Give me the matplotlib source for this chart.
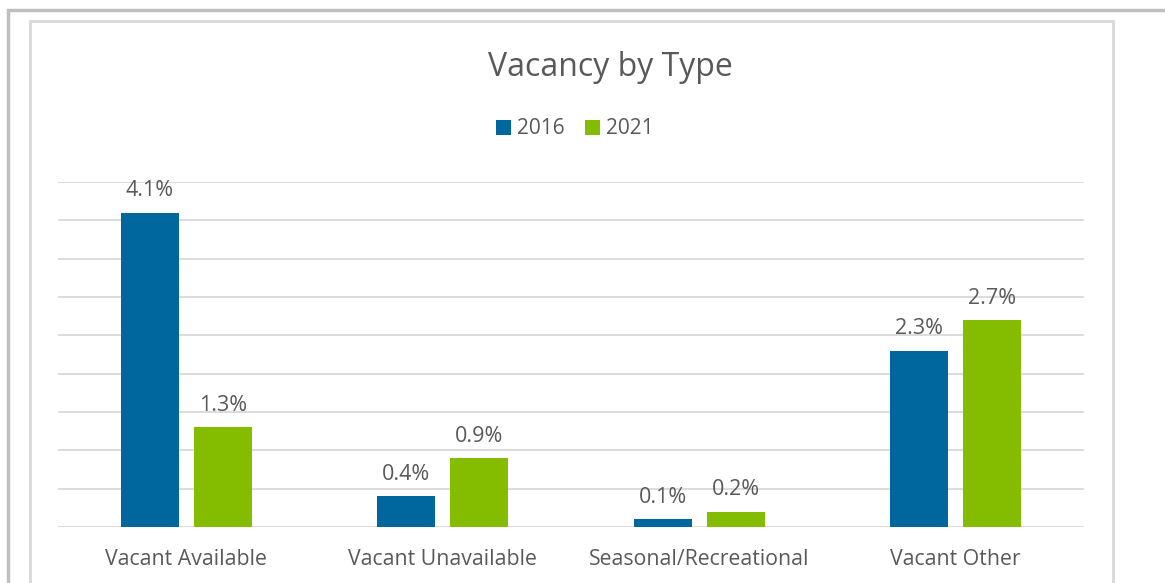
import matplotlib.pyplot as plt
from matplotlib.patches import Rectangle
import numpy as np

categories = ["Vacant Available", "Vacant Unavailable", "Seasonal/Recreational", "Vacant Other"]
years = ["2016", "2021"]
vac_2016 = [4.1, 0.4, 0.1, 2.3]
vac_2021 = [1.3, 0.9, 0.2, 2.7]

blue = "#00669E"
green = "#84BD00"
text_col = "#595959"

plt.rcParams["font.family"] = ["Open Sans", "DejaVu Sans"]

fig = plt.figure(figsize=(11.65, 5.83), dpi=100)

# frames
fig.patches.append(Rectangle((8 / 1165, -0.1), 1.2, 1 - 10 / 583 + 0.1, transform=fig.transFigure,
                             fill=False, edgecolor="#BFBFBF", linewidth=2.5))
fig.patches.append(Rectangle((30 / 1165, -0.1), (1113 - 30) / 1165, 1 - 21 / 583 + 0.1,
                             transform=fig.transFigure, fill=False, edgecolor="#D9D9D9", linewidth=2))

ax = fig.add_axes([58 / 1165, 1 - 527 / 583, (1084 - 58) / 1165, (527 - 182) / 583])

x = np.arange(len(categories))
w = 0.226
off = 0.142
b1 = ax.bar(x - off, vac_2016, w, color=blue, label=years[0], zorder=3)
b2 = ax.bar(x + off, vac_2021, w, color=green, label=years[1], zorder=3)

for bars, vals in ((b1, vac_2016), (b2, vac_2021)):
    for r, v in zip(bars, vals):
        ax.text(r.get_x() + r.get_width() / 2, v + 0.15, f"{v:.1f}%", ha="center", va="bottom",
                fontsize=15.5, color=text_col)

ax.set_xlim(-0.5, 3.5)
ax.set_ylim(0, 4.5)
ax.set_yticks(np.arange(0, 4.51, 0.5))
ax.yaxis.grid(True, color="#D9D9D9", linewidth=1.3, zorder=0)
ax.tick_params(axis="y", left=False, labelleft=False)
ax.tick_params(axis="x", bottom=False, labelsize=15.3, labelcolor=text_col, pad=12)
ax.set_xticks(x)
ax.set_xticklabels(categories)
for s in ax.spines.values():
    s.set_visible(False)

fig.text(610 / 1165, 1 - 67 / 583, "Vacancy by Type", ha="center", va="center", fontsize=23, color=text_col)
fig.legend(handles=[b1, b2], labels=years, loc="center", bbox_to_anchor=(575 / 1165, 1 - 129 / 583),
           ncol=2, frameon=False, fontsize=15, labelcolor=text_col, handlelength=0.7, handleheight=0.7,
           handletextpad=0.3, columnspacing=1.0)

fig.savefig("out.png", dpi=100)
